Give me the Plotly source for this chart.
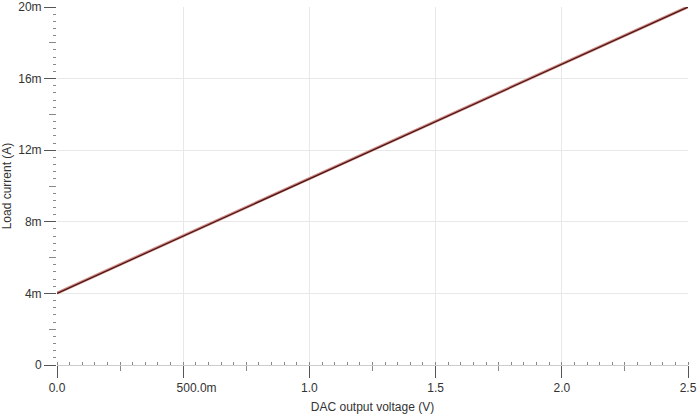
import plotly.graph_objects as go

# DAC sweep: output voltage (V) vs load current (A)
dac_v = [0.0, 0.5, 1.0, 1.5, 2.0, 2.5]
load_sim = [4.0e-3, 7.2e-3, 10.4e-3, 13.6e-3, 16.8e-3, 20.0e-3]
load_meas = [4.02e-3, 7.21e-3, 10.41e-3, 13.61e-3, 16.81e-3, 20.01e-3]

x_ticks = [0.0, 0.5, 1.0, 1.5, 2.0, 2.5]
# the 500.0m label sits right of its tick in the original, padded with nbsp
x_labels = ["0.0", "\u00a0" * 8 + "500.0m", "1.0", "1.5", "2.0", "2.5"]
y_ticks = [0, 4e-3, 8e-3, 12e-3, 16e-3, 20e-3]
y_labels = ["0", "4m", "8m", "12m", "16m", "20m"]
x_mid = [0.25, 0.75, 1.25, 1.75, 2.25]
y_mid = [2e-3, 6e-3, 10e-3, 14e-3, 18e-3]

font = "Liberation Sans, Arial, sans-serif"
tick_col = "#555555"
grid_col = "#e8e8e8"

fig = go.Figure()
fig.add_trace(go.Scatter(
    x=dac_v, y=load_meas, mode="lines", name="meas",
    line=dict(color="#d08a84", width=3), hoverinfo="skip"
))
fig.add_trace(go.Scatter(
    x=dac_v, y=load_sim, mode="lines", name="sim",
    line=dict(color="#4a1212", width=1.2)
))
# invisible trace to carry the half-interval tick axes
fig.add_trace(go.Scatter(x=[0, 2.5], y=[0, 0.02], xaxis="x2", yaxis="y2",
                         mode="markers", marker=dict(opacity=0),
                         hoverinfo="skip", showlegend=False))

fig.update_layout(
    width=700, height=419,
    showlegend=False,
    plot_bgcolor="white",
    paper_bgcolor="white",
    font=dict(family=font, size=12, color="#333333"),
    margin=dict(l=57, r=12, t=7, b=54, autoexpand=False),
    xaxis=dict(
        range=[0, 2.5],
        tickvals=x_ticks, ticktext=x_labels,
        ticks="outside", ticklen=12, tickwidth=1.2, tickcolor=tick_col,
        showgrid=True, gridcolor=grid_col,
        showline=True, linecolor="#cccccc", linewidth=1,
        zeroline=False,
        minor=dict(dtick=0.05, ticks="inside", ticklen=3, tickcolor="#888888",
                   showgrid=False),
        title=dict(text="DAC output voltage (V)", font=dict(size=12, color="#333333"),
                   standoff=8),
        tickfont=dict(size=12, color="#333333"),
        automargin=False,
    ),
    yaxis=dict(
        range=[0, 0.02],
        tickvals=y_ticks, ticktext=y_labels,
        ticks="outside", ticklen=12, tickwidth=1.2, tickcolor=tick_col,
        showgrid=True, gridcolor=grid_col,
        showline=False, zeroline=False,
        minor=dict(dtick=0.4e-3, ticks="outside", ticklen=3, tickcolor="#888888",
                   showgrid=False),
        title=dict(text="Load current (A)", font=dict(size=12, color="#333333"),
                   standoff=4),
        tickfont=dict(size=12, color="#333333"),
        automargin=False,
    ),
    xaxis2=dict(
        range=[0, 2.5], overlaying="x", tickvals=x_mid, showticklabels=False,
        ticks="outside", ticklen=5, tickcolor="#888888", showgrid=False,
        zeroline=False, showline=False,
    ),
    yaxis2=dict(
        range=[0, 0.02], overlaying="y", tickvals=y_mid, showticklabels=False,
        ticks="outside", ticklen=7, tickcolor="#888888", showgrid=False,
        zeroline=False, showline=False,
    ),
)

# drop the default page margin so the 700x419 figure sits flush in the window
fig.write_html("out.html",
               config={"displayModeBar": False},
               post_script="document.body.style.margin='0';"
                           "document.body.style.overflow='hidden';")
